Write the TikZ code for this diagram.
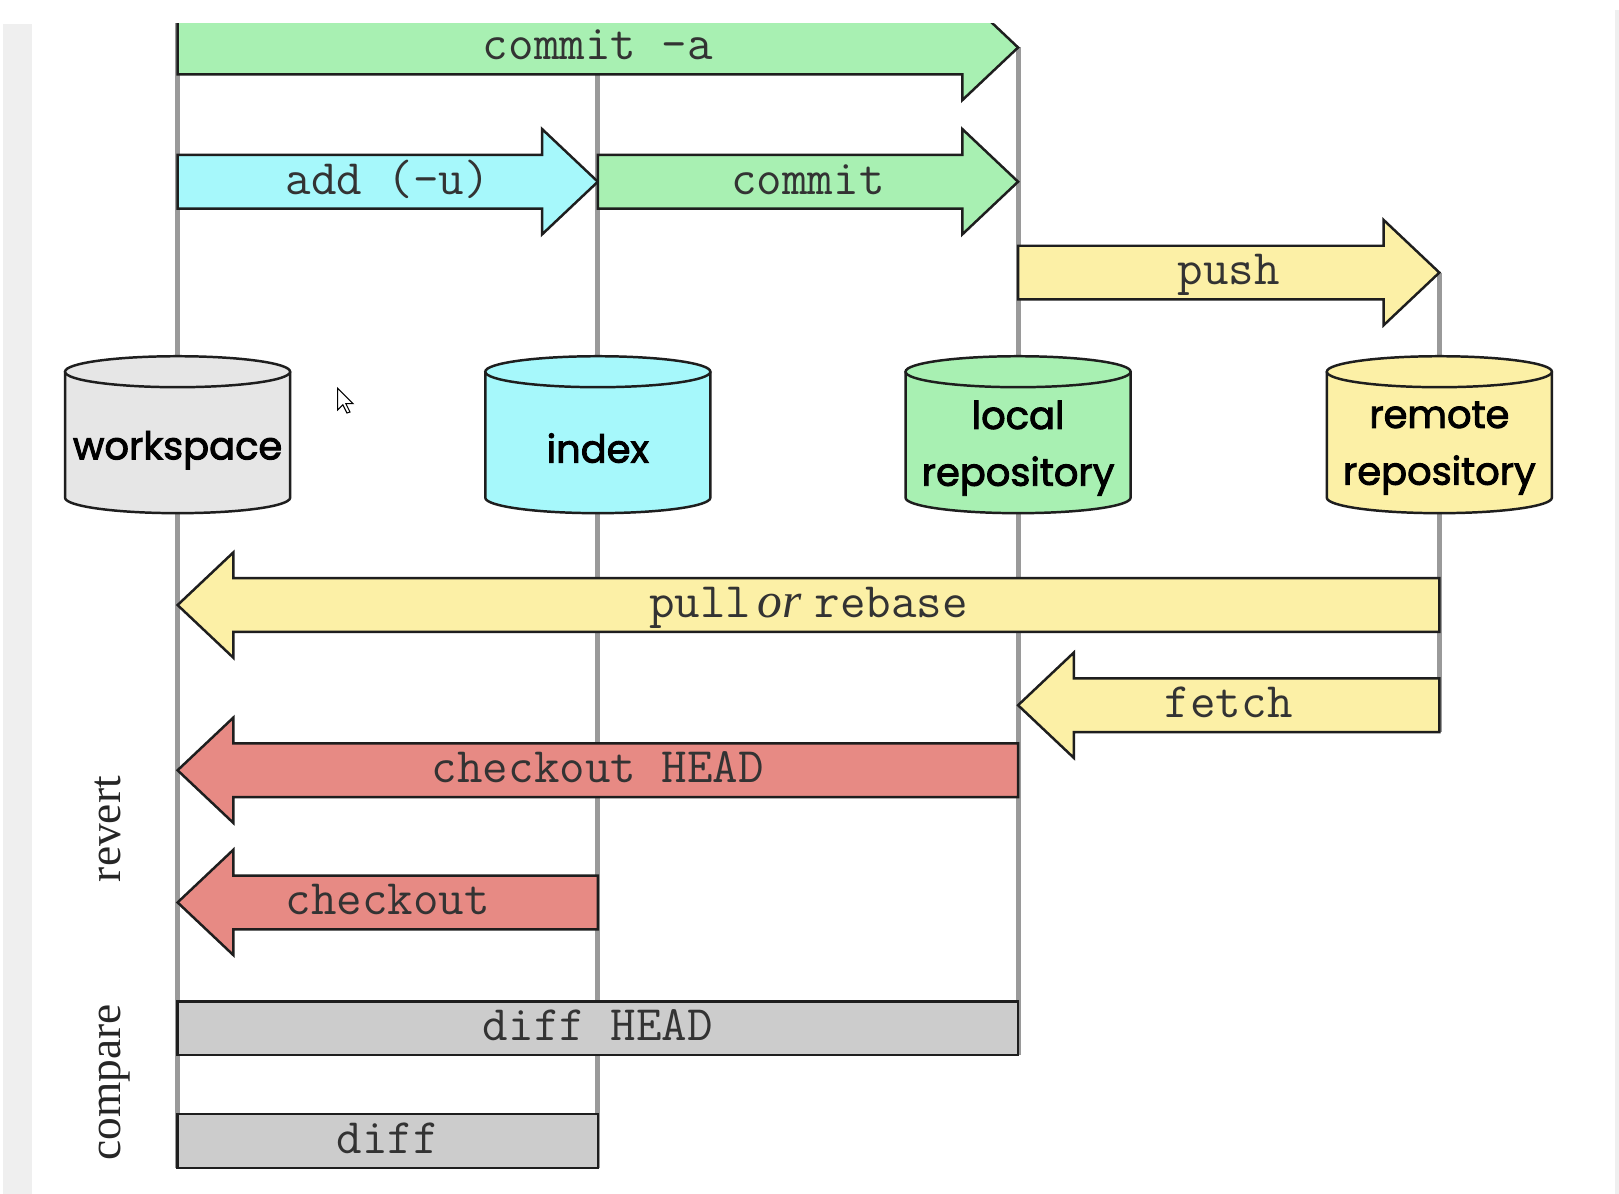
\documentclass[tikz,border=0pt]{standalone}
\usepackage{fontspec}
\setmainfont{Liberation Serif}
\newfontfamily\cylfont{Poppins}[FakeBold=2.4]
\definecolor{gitgreen}{HTML}{A8F0B2}
\definecolor{gitcyan}{HTML}{A6F8FB}
\definecolor{gityellow}{HTML}{FCF0A6}
\definecolor{gitred}{HTML}{E78A84}
\definecolor{gitgray}{HTML}{CCCCCC}
\definecolor{wsgray}{HTML}{E6E6E6}
\definecolor{lifegray}{HTML}{9A9A9A}
\definecolor{edgecol}{HTML}{1E1E1E}
\definecolor{bandgray}{HTML}{EFEFEF}
\tikzset{
  lifeline/.style={draw=lifegray, line width=2.4pt},
  fatarrow/.style={draw=edgecol, line width=1.2pt, line join=miter},
  cmdtext/.style={font=\ttfamily\fontsize{24}{28}\selectfont, inner sep=0pt, anchor=base, text=black!80},
  cylline/.style={draw=edgecol, line width=1.2pt},
  cyltext/.style={font=\cylfont\fontsize{18.6}{27.5}\selectfont, align=center, inner sep=0pt, text=black},
  sidetext/.style={font=\fontsize{22}{26}\selectfont, rotate=90, anchor=base, inner sep=0pt, text=black!85},
}
% #1 name, #2 x of tail, #3 x of tip, #4 y, #5 colour, #6 text
\newcommand\FatRight[6]{%
  \draw[fatarrow, fill=#5] (#2,#4-26) -- (#3-54,#4-26) -- (#3-54,#4-51) -- (#3,#4) -- (#3-54,#4+51) -- (#3-54,#4+26) -- (#2,#4+26) -- cycle;
  \node[cmdtext] (#1) at ({(#2+#3)/2},#4+12) {#6};}
% #1 name, #2 x of tip, #3 x of tail, #4 y, #5 colour, #6 text
\newcommand\FatLeft[6]{%
  \draw[fatarrow, fill=#5] (#3,#4-26) -- (#2+54,#4-26) -- (#2+54,#4-51) -- (#2,#4) -- (#2+54,#4+51) -- (#2+54,#4+26) -- (#3,#4+26) -- cycle;
  \node[cmdtext] (#1) at ({(#2+#3)/2},#4+12) {#6};}
\newcommand\PlainBar[6]{%
  \draw[fatarrow, fill=#5] (#2,#4-26) rectangle (#3,#4+26);
  \node[cmdtext] (#1) at ({(#2+#3)/2},#4+12) {#6};}
% #1 name, #2 x centre, #3 colour, #4 text y, #5 text
\newcommand\Cylinder[5]{%
  \fill[#3] (#2-109,360) -- (#2-109,482) arc[start angle=180, end angle=360, x radius=54.5pt, y radius=7.5pt] -- (#2+109,360) -- cycle;
  \draw[cylline] (#2-109,360) -- (#2-109,482) arc[start angle=180, end angle=360, x radius=54.5pt, y radius=7.5pt] -- (#2+109,360);
  \draw[cylline, fill=#3] (#2,360) ellipse [x radius=54.5pt, y radius=7.5pt];
  \node[cyltext] (#1) at (#2,#4) {#5};}
\begin{document}
\begin{tikzpicture}[x=0.5pt, y=-0.5pt]
\useasboundingbox (0,0) rectangle (1568,1156);
\fill[white] (0,0) rectangle (1568,1156);
\fill[bandgray] (1564,10) rectangle (1568,1156);
\begin{scope}
\clip (0,23) rectangle (1568,1156);
\fill[bandgray] (3,23) rectangle (31,1156);
% lifelines
\coordinate (wsA) at (172,20);   \coordinate (wsB) at (172,1131);
\coordinate (ixA) at (579,20);   \coordinate (ixB) at (579,1131);
\coordinate (lcA) at (986,46);   \coordinate (lcB) at (986,1022);
\coordinate (rmA) at (1394,264); \coordinate (rmB) at (1394,709);
\draw[lifeline] (wsA) -- (wsB);
\draw[lifeline] (ixA) -- (ixB);
\draw[lifeline] (lcA) -- (lcB);
\draw[lifeline] (rmA) -- (rmB);
% commands
\FatRight{commita}{172}{986}{46}{gitgreen}{commit -a}
\FatRight{add}{172}{579}{176}{gitcyan}{add (-u)}
\FatRight{commit}{579}{986}{176}{gitgreen}{commit}
\FatRight{push}{986}{1394}{264}{gityellow}{push}
\FatLeft{pull}{172}{1394}{586}{gityellow}{pull\hspace{3pt}{\rmfamily\itshape or}\hspace{6.5pt}rebase}
\FatLeft{fetch}{986}{1394}{683}{gityellow}{fetch}
\FatLeft{cohead}{172}{986}{746}{gitred}{checkout HEAD}
\FatLeft{co}{172}{579}{874}{gitred}{checkout}
\PlainBar{diffhead}{172}{986}{996}{gitgray}{diff HEAD}
\PlainBar{diff}{172}{579}{1105}{gitgray}{diff}
% stores
\Cylinder{ws}{172}{wsgray}{436}{workspace}
\Cylinder{ix}{579}{gitcyan}{434}{index}
\Cylinder{lc}{986}{gitgreen}{434}{local\\repository}
\Cylinder{rm}{1394}{gityellow}{434}{remote\\repository}
% side labels
\node[sidetext] (revert) at (117,803) {revert};
\node[sidetext] (compare) at (117,1048) {compare};
% mouse pointer
\draw[fill=white, draw=black, line width=0.5pt] (327,376) -- (327,397) -- (332,392) -- (336,400) -- (339,399) -- (335,391) -- (342,391) -- cycle;
\end{scope}
\end{tikzpicture}
\end{document}
